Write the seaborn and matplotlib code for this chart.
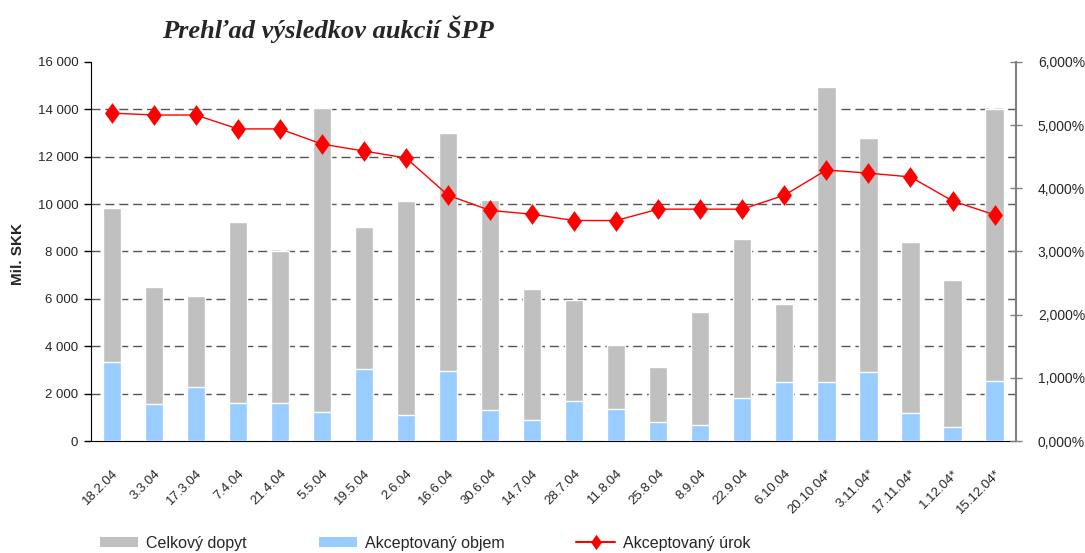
"""
Prehľad výsledkov aukcií ŠPP - stĺpce (dopyt / objem) + čiara (úrok)
"""

import matplotlib
matplotlib.use('Agg')
import matplotlib.pyplot as plt
import matplotlib.transforms as mtransforms
import seaborn as sns
import numpy as np
import pandas as pd
from matplotlib.lines import Line2D
from matplotlib.patches import Patch
from matplotlib.path import Path
from matplotlib.markers import MarkerStyle
from matplotlib.ticker import FuncFormatter, FixedLocator

# dáta odčítané z grafu
datumy = ["18.2.04", "3.3.04", "17.3.04", "7.4.04", "21.4.04", "5.5.04",
          "19.5.04", "2.6.04", "16.6.04", "30.6.04", "14.7.04", "28.7.04",
          "11.8.04", "25.8.04", "8.9.04", "22.9.04", "6.10.04", "20.10.04*",
          "3.11.04*", "17.11.04*", "1.12.04*", "15.12.04*"]
celkovy_dopyt = [9820, 6510, 6130, 9260, 8020, 14070, 9030, 10110, 13000, 10180,
                 6430, 5940, 4050, 3120, 5430, 8510, 5780, 14950, 12770, 8380,
                 6790, 14000]
akceptovany_objem = [3350, 1550, 2270, 1620, 1620, 1240, 3050, 1100, 2970, 1320,
                     900, 1690, 1340, 820, 680, 1830, 2480, 2480, 2910, 1180,
                     590, 2530]
akceptovany_urok = [5.19, 5.16, 5.16, 4.94, 4.94, 4.70, 4.59, 4.48, 3.89, 3.65,
                    3.59, 3.49, 3.49, 3.67, 3.67, 3.67, 3.89, 4.29, 4.24, 4.18,
                    3.80, 3.58]

lave_ticky = [0, 2000, 4000, 6000, 8000, 10000, 12000, 14000, 16000]
prave_ticky = [0, 1, 2, 3, 4, 5, 6]

legenda = ["Celkový dopyt", "Akceptovaný objem", "Akceptovaný úrok"]

SIVA = '#C0C0C0'
MODRA = '#99CCFF'
CERVENA = '#FF0000'

sns.set_style('white')
plt.rcParams['font.family'] = ['Liberation Sans', 'DejaVu Sans']

df = pd.DataFrame({
    'datum': datumy,
    'dopyt': celkovy_dopyt,
    'objem': akceptovany_objem,
})
n = len(datumy)

fig, ax = plt.subplots(figsize=(10.85, 5.53), dpi=100)
fig.subplots_adjust(left=0.0836, right=0.936, top=0.888, bottom=0.2025)

# stĺpce - sivý celkový dopyt za modrým akceptovaným objemom
sns.barplot(data=df, x='datum', y='dopyt', color=SIVA, saturation=1,
            width=0.435, errorbar=None, ax=ax, zorder=2)
sns.barplot(data=df, x='datum', y='objem', color=MODRA, saturation=1,
            width=0.435, errorbar=None, ax=ax, zorder=3)

ax.set_ylim(lave_ticky[0], lave_ticky[-1])
ax.set_xlim(-0.5, n - 0.5)
ax.yaxis.set_major_locator(FixedLocator(lave_ticky))
ax.yaxis.set_major_formatter(FuncFormatter(lambda v, p: f'{int(v):,}'.replace(',', ' ')))
ax.set_xlabel('')
ax.set_ylabel('')

# prerušovaná mriežka - iba vnútorné hodnoty (hore ani dole čiara nie je)
ax.hlines(lave_ticky[1:-1], 0, 1, transform=ax.get_yaxis_transform(),
          colors='#555555', linewidth=1.0, linestyles=(0, (6.5, 3.5)), zorder=1)

ax.set_xticks(np.arange(n))
ax.set_xticklabels(datumy, rotation=45, ha='right', rotation_mode='anchor', fontsize=9.5)
posun = mtransforms.ScaledTranslation(-8 / 100, 0, fig.dpi_scale_trans)
for lbl in ax.get_xticklabels():
    lbl.set_transform(lbl.get_transform() + posun)
ax.xaxis.set_minor_locator(FixedLocator(np.arange(n + 1) - 0.5))
ax.tick_params(axis='x', which='major', length=0, pad=19)
ax.tick_params(axis='x', which='minor', length=5, width=1, direction='out', color='black')
ax.tick_params(axis='y', length=5, width=1, direction='out', color='black',
               labelsize=9.5, pad=4)

for s in ['top', 'right']:
    ax.spines[s].set_visible(False)
ax.spines['left'].set_color('black')
ax.spines['bottom'].set_color('black')

# úrok na pravej osi
ax2 = ax.twinx()
kosostvorec = MarkerStyle(Path([(0, 1), (0.72, 0), (0, -1), (-0.72, 0), (0, 1)], closed=True))
sns.lineplot(x=np.arange(n), y=akceptovany_urok, ax=ax2, color=CERVENA, linewidth=1.0,
             marker=kosostvorec, markersize=15, markerfacecolor=CERVENA,
             markeredgewidth=0, zorder=5)
ax2.set_ylim(prave_ticky[0], prave_ticky[-1])
ax2.set_xlim(-0.5, n - 0.5)
ax2.yaxis.set_major_locator(FixedLocator(prave_ticky))
ax2.yaxis.set_major_formatter(FuncFormatter(lambda v, p: f'{v:.3f}%'.replace('.', ',')))
ax2.tick_params(axis='y', length=8, width=1, direction='inout', color='#808080',
                labelsize=10, pad=12)
for s in ['top', 'left', 'bottom']:
    ax2.spines[s].set_visible(False)
ax2.spines['right'].set_color('#808080')
ax2.spines['right'].set_linewidth(1.5)
ax2.set_ylabel('')

# popisy
fig.text(0.302, 0.948, 'Prehľad výsledkov aukcií ŠPP', family=['Liberation Serif', 'DejaVu Serif'],
         weight='bold', style='italic', fontsize=19, ha='center', va='center')
fig.text(0.017, 0.54, 'Mil. SKK', rotation=90, fontsize=11, weight='bold',
         ha='center', va='center')

handles = [
    Patch(facecolor=SIVA, edgecolor='none'),
    Patch(facecolor=MODRA, edgecolor='none'),
    Line2D([0], [0], color=CERVENA, linewidth=1.5, marker=kosostvorec,
           markersize=11, markeredgewidth=0),
]
fig.legend(handles, legenda, loc='center left', bbox_to_anchor=(0.092, 0.018),
           ncol=3, frameon=False, fontsize=11.5, handlelength=2.4, handleheight=0.6,
           handletextpad=0.5, columnspacing=4.5, borderaxespad=0, borderpad=0)

plt.savefig('out.png', dpi=100)
plt.close()
